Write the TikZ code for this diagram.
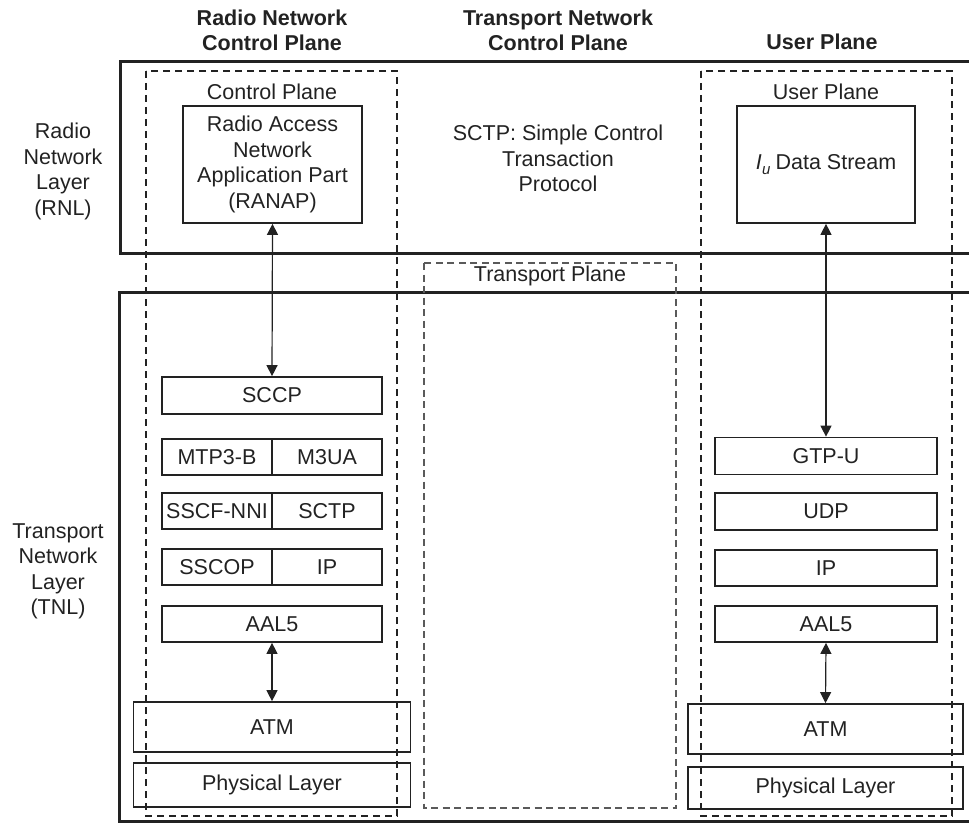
\documentclass[tikz,border=0pt]{standalone}
\usepackage{fontspec}
\setmainfont{Liberation Sans}
\usetikzlibrary{arrows.meta}
\definecolor{ink}{HTML}{222222}
\definecolor{faint}{HTML}{5A5A5A}
\begin{document}
\begin{tikzpicture}[x=1pt,y=-1pt,
  every node/.style={font=\fontsize{21.5}{25.5}\selectfont, text=ink, inner sep=0pt},
  heading/.style={font=\bfseries\fontsize{21.5}{25}\selectfont, align=center},
  caption/.style={align=center},
  layerbox/.style={draw=ink, line width=1.7pt, minimum height=#1},
  layerbox/.default=36pt,
  outerbox/.style={draw=ink, line width=3pt},
  plane/.style={draw=ink, line width=1.8pt, dash pattern=on 7pt off 5pt},
  tplane/.style={draw=faint, line width=1.2pt, dash pattern=on 7pt off 4.5pt},
  link/.style={draw=ink, line width=1.2pt,
    {Triangle[width=11pt,length=11pt]}-{Triangle[width=11pt,length=11pt]}}
]
\useasboundingbox (0,0) rectangle (969,824);
\clip (0,0) rectangle (969,824);

% column headings
\node[heading] (hrnc) at (272,30) {Radio Network\\Control Plane};
\node[heading] (htnc) at (558,30) {Transport Network\\Control Plane};
\node[heading] (hup)  at (822,42) {User Plane};

% layer labels
\node[caption] (lrnl) at (63,171.5) {Radio\\Network\\Layer\\(RNL)};
\node[caption] (ltnl) at (58,571.5) {Transport\\Network\\Layer\\(TNL)};

% layer frames (open towards the right)
\draw[outerbox] (995,62) -- (120,62) -- (120,253) -- (995,253);
\draw[outerbox] (995,292) -- (119,292) -- (119,821) -- (995,821);

% planes
\draw[plane] (146,71) rectangle (397,816);
\draw[plane] (701,71) rectangle (952,816);
\draw[tplane] (424,263) rectangle (676,808);

\node (cplabel) at (272,92) {Control Plane};
\node (uplabel) at (826,92) {User Plane};
\node (tplabel) at (550,276) {Transport Plane};

\node[caption] (sctpnote) at (558,158.5) {SCTP: Simple Control\\Transaction\\Protocol};

% radio network layer protocols
\node[layerbox=117pt, minimum width=179pt, align=center] (ranap) at (272.5,164.5)
  {Radio Access\\Network\\Application Part\\(RANAP)};
\node[layerbox=117pt, minimum width=178pt] (iu) at (826,164.5)
  {\textit{I}\kern0.5pt\raisebox{-0.45ex}{\fontsize{15}{15}\selectfont\textit{u}}\kern5pt Data Stream};

% control plane stack
\node[layerbox=37pt, minimum width=220pt] (sccp) at (272,395.5) {SCCP};
\node[layerbox, minimum width=110pt] (mtp)   at (217,457) {MTP3-B};
\node[layerbox, minimum width=110pt] (m3ua)  at (327,457) {M3UA};
\node[layerbox, minimum width=110pt] (sscf)  at (217,511) {SSCF-NNI};
\node[layerbox, minimum width=110pt] (sctp)  at (327,511) {SCTP};
\node[layerbox, minimum width=110pt] (sscop) at (217,567) {SSCOP};
\node[layerbox, minimum width=110pt] (ipl)   at (327,567) {IP};
\node[layerbox, minimum width=220pt] (aal5l) at (272,624) {AAL5};
\node[layerbox=50pt, minimum width=277pt] (atml) at (272,727) {ATM};
\node[layerbox=44pt, minimum width=277pt] (phyl) at (272,785) {Physical Layer};

% user plane stack
\node[layerbox=37pt, minimum width=222pt] (gtpu) at (826,456) {GTP-U};
\node[layerbox=37pt, minimum width=222pt] (udp)  at (826,511.5) {UDP};
\node[layerbox, minimum width=222pt] (ipr)   at (826,568) {IP};
\node[layerbox, minimum width=222pt] (aal5r) at (826,624) {AAL5};
\node[layerbox=50pt, minimum width=275pt] (atmr) at (825.5,729) {ATM};
\node[layerbox=42pt, minimum width=275pt] (phyr) at (825.5,788) {Physical Layer};

% interlayer links
\draw[link] (ranap.south) -- (sccp.north);
\draw[link] (iu.south) -- (gtpu.north);
\draw[link] (aal5l.south) -- (atml.north);
\draw[link] (aal5r.south) -- (atmr.north);
\end{tikzpicture}
\end{document}
